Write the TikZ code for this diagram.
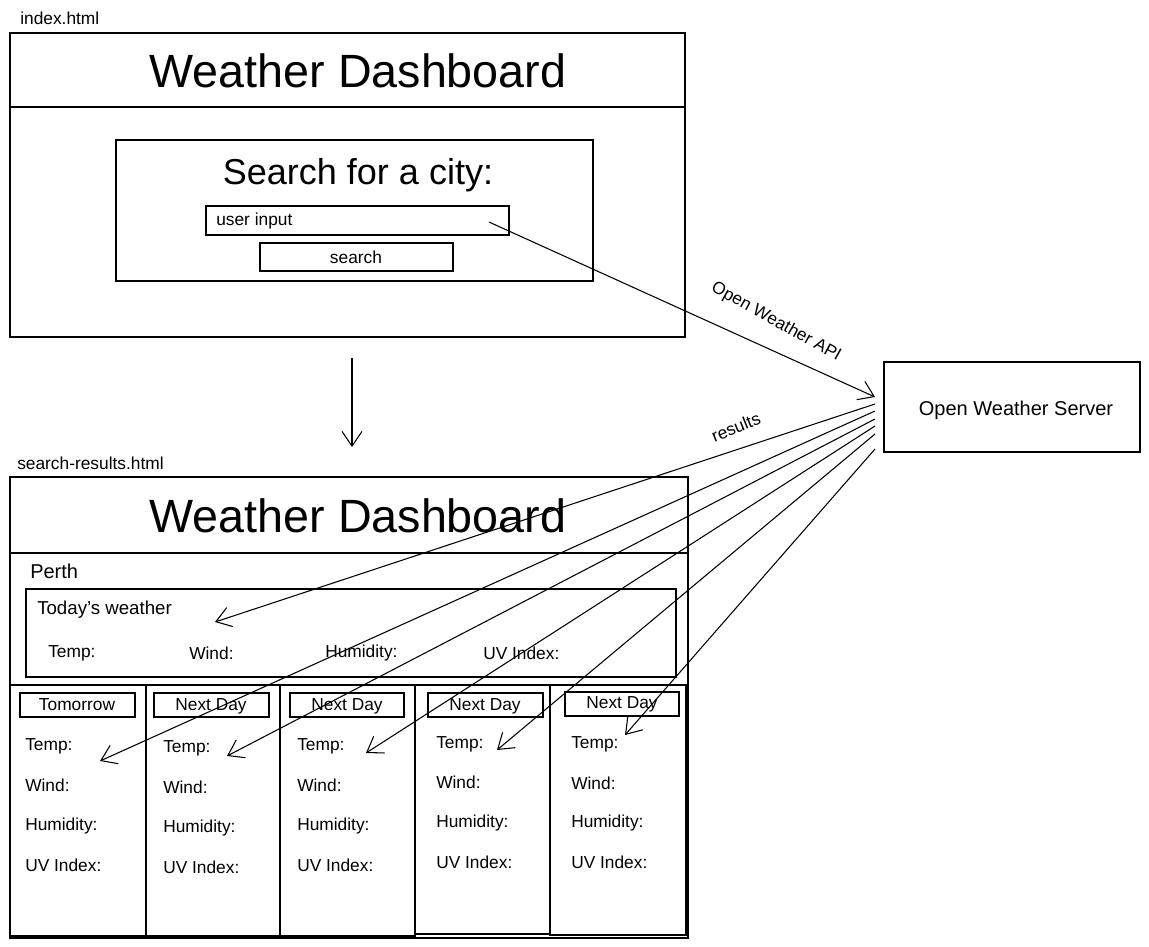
\documentclass[tikz,border=0pt]{standalone}
\usepackage{fontspec}
\setmainfont{Liberation Sans}
\usetikzlibrary{arrows.meta}
\begin{document}
\begin{tikzpicture}[x=0.75pt,y=-0.75pt,
  box/.style={draw,line width=1pt},
  lbl/.style={inner sep=0pt,anchor=west,font=\fontsize{13}{15}\selectfont},
  clbl/.style={inner sep=0pt,anchor=center,font=\fontsize{13}{15}\selectfont},
  title/.style={inner sep=0pt,anchor=center,font=\fontsize{35}{40}\selectfont},
  conn/.style={line width=0.8pt,-{Straight Barb[length=11pt,width=15pt,line width=0.8pt]}},
]
\useasboundingbox (0,0) rectangle (1149,946);

% ---------- index.html ----------
\node[lbl] (idxname) at (20,18) {index.html};
\draw[box] (10,33) rectangle (685,337);
\draw[box] (10,107) -- (685,107);
\node[title] (title1) at (358,71) {Weather Dashboard};
\draw[box] (116,140) rectangle (593,281);
\node[clbl,font=\fontsize{27}{30}\selectfont] (searchfor) at (358,175) {Search for a city:};
\draw[box] (206,206) rectangle (509,235);
\node[lbl] (userinput) at (216,221) {user input};
\draw[box] (260,243) rectangle (453,271);
\node[clbl] (searchbtn) at (356,257) {search};
\coordinate (inp) at (489,222);

% down arrow
\coordinate (dstart) at (352,358);
\coordinate (dend) at (352,447);
\draw[conn] (dstart) -- (dend);

% ---------- server ----------
\draw[box] (884,362) rectangle (1140,452);
\node[clbl,font=\fontsize{15}{17}\selectfont] (server) at (1016,410) {Open Weather Server};
\coordinate (srvin) at (875,397);
\coordinate (s1) at (875,404);
\coordinate (s2) at (875,411);
\coordinate (s3) at (875,419);
\coordinate (s4) at (875,426);
\coordinate (s5) at (875,434);
\coordinate (s6) at (875,449);

\draw[conn] (inp) -- (srvin);
\node[clbl,rotate=-29] (apilbl) at (776,322) {Open Weather API};
\node[clbl,rotate=22] (reslbl) at (736,427) {results};

% ---------- search-results.html ----------
\node[lbl] (resname) at (17,463) {search-results.html};
\draw[box] (10,477) rectangle (688,938);
\draw[box] (10,553) -- (688,553);
\node[title] (title2) at (358,516) {Weather Dashboard};
\draw[box] (10,553) rectangle (688,685);
\node[lbl,font=\fontsize{15}{17}\selectfont] (perth) at (30,571) {Perth};
\draw[box] (26,589) rectangle (676,677);
\node[lbl,font=\fontsize{14}{16}\selectfont] (today) at (37,610) {Today's weather};
\node[lbl] (tTemp) at (48,653) {Temp:};
\node[lbl] (tWind) at (189,653) {Wind:};
\node[lbl] (tHum) at (325,653) {Humidity:};
\node[lbl] (tUV) at (483,653) {UV Index:};

% day columns
\draw[box] (10,685) rectangle (146,936);
\draw[box] (146,685) rectangle (280,936);
\draw[box] (280,685) rectangle (415,936);
\draw[box] (415,685) rectangle (550,934);
\draw[box] (550,685) rectangle (686,935);

\draw[box] (20,693) rectangle (135,717);
\draw[box] (154,693) rectangle (269,717);
\draw[box] (290,693) rectangle (404,717);
\draw[box] (428,693) rectangle (543,717);
\draw[box] (565,692) rectangle (679,716);
\node[clbl] (h1) at (77,705) {Tomorrow};
\node[clbl] (h2) at (211,706) {Next Day};
\node[clbl] (h3) at (347,706) {Next Day};
\node[clbl] (h4) at (485,706) {Next Day};
\node[clbl] (h5) at (622,704) {Next Day};

\foreach \i/\x/\a/\b/\c/\d in {1/25/746/785/826/865, 2/163/748/787/828/867, 3/297/746/785/826/865, 4/436/744/782/823/862, 5/571/744/783/823/862}{
  \node[lbl] (temp\i) at (\x,\a) {Temp:};
  \node[lbl] (wind\i) at (\x,\b) {Wind:};
  \node[lbl] (hum\i) at (\x,\c) {Humidity:};
  \node[lbl] (uv\i) at (\x,\d) {UV Index:};
}

% result arrows
\coordinate (e0) at (215,622);
\coordinate (e1) at (100,761);
\coordinate (e2) at (227,756);
\coordinate (e3) at (366,753);
\coordinate (e4) at (497,750);
\coordinate (e5) at (625,735);
\draw[conn] (s1) -- (e0);
\draw[conn] (s2) -- (e1);
\draw[conn] (s3) -- (e2);
\draw[conn] (s4) -- (e3);
\draw[conn] (s5) -- (e4);
\draw[conn] (s6) -- (e5);
\end{tikzpicture}
\end{document}
